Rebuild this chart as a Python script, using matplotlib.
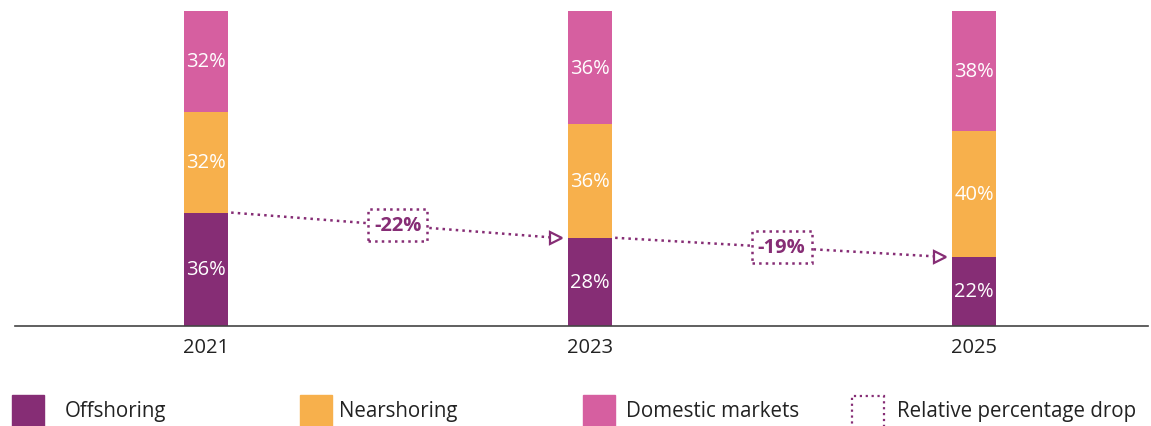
import matplotlib.pyplot as plt
from matplotlib.patches import Rectangle

years = ['2021', '2023', '2025']
offshoring = [36, 28, 22]
nearshoring = [32, 36, 40]
domestic = [32, 36, 38]
drop_labels = ['-22%', '-19%']

series_names = ['Offshoring', 'Nearshoring', 'Domestic markets']
colors = ['#862D75', '#F7B04C', '#D65FA0']
purple = '#862D75'

plt.rcParams['font.family'] = ['Open Sans', 'DejaVu Sans']

W, H = 1151, 427
fig = plt.figure(figsize=(W / 100, H / 100), dpi=100)
ax = fig.add_axes([15 / W, 100 / H, 1133 / W, 315 / H])

x = list(range(len(years)))
bw = 0.115
bottom = [0, 0, 0]
for vals, col in zip([offshoring, nearshoring, domestic], colors):
    ax.bar(x, vals, bw, bottom=bottom, color=col, zorder=2)
    for xi, b, v in zip(x, bottom, vals):
        ax.text(xi, b + v / 2, f'{v}%', ha='center', va='center',
                color='white', fontsize=14.5, zorder=3)
    bottom = [b + v for b, v in zip(bottom, vals)]

# relative drop arrows
gap = 0.008
for i in range(len(years) - 1):
    x0 = x[i] + bw / 2 + gap
    x1 = x[i + 1] - bw / 2 - 0.03
    y0, y1 = offshoring[i], offshoring[i + 1]
    ax.plot([x0, x1], [y0, y1], ls=':', lw=1.8, color=purple, zorder=1)
    ax.plot([x1], [y1], marker='>', ms=8, mfc='white', mec=purple,
            mew=1.6, zorder=2)
    ax.text((x0 + x1) / 2 + 0.01, (y0 + y1) / 2, drop_labels[i],
            ha='center', va='center', color=purple, fontsize=14.5,
            fontweight='bold', zorder=4,
            bbox=dict(boxstyle='square,pad=0.3', fc='white', ec=purple,
                      ls=':', lw=1.8))

ax.set_xlim(-191 / 384, 2 + 174 / 384)
ax.set_ylim(0, 100)
ax.set_xticks(x)
ax.set_xticklabels(years, fontsize=14.5, color='#222222')
ax.tick_params(axis='x', length=0, pad=8)
ax.set_yticks([])
for s in ['top', 'right', 'left']:
    ax.spines[s].set_visible(False)
ax.spines['bottom'].set_color('#444444')
ax.spines['bottom'].set_linewidth(1.2)

# legend drawn by hand
leg_patch_x = [12, 300, 583]
leg_text_x = [65, 339, 626]
py = 396
for px, tx, name, col in zip(leg_patch_x, leg_text_x, series_names, colors):
    fig.patches.append(Rectangle((px / W, (H - py - 32) / H), 32 / W, 32 / H,
                                 color=col, transform=fig.transFigure))
    fig.text(tx / W, (H - 412) / H, name, fontsize=14.8, va='center',
             color='#222222')
fig.patches.append(Rectangle((852 / W, -10 / H), 32 / W, (H - 397 + 10) / H,
                             fill=False, ec=purple, ls=':', lw=1.6,
                             transform=fig.transFigure))
fig.text(897 / W, (H - 412) / H, 'Relative percentage drop', fontsize=14.8,
         va='center', color='#222222')

fig.savefig('out.png', dpi=100)
